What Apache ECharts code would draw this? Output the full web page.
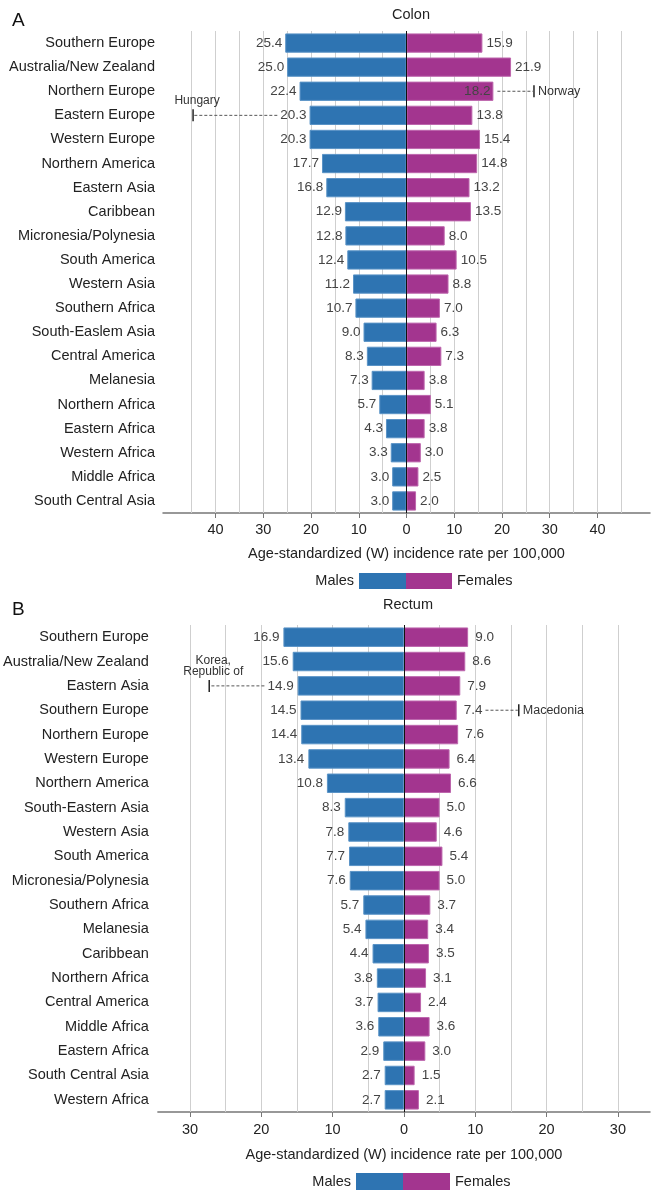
<!DOCTYPE html>
<html>
<head>
<meta charset="utf-8">
<script src="https://cdn.jsdelivr.net/npm/echarts@6/dist/echarts.min.js"></script>
<style>
html,body{margin:0;padding:0;background:#fff;}
#chart{width:651px;height:1193px;}
</style>
</head>
<body>
<div id="chart"></div>
<script>
// ---------- Panel A: Colon ----------
const colonCategories = ['Southern Europe','Australia/New Zealand','Northern Europe','Eastern Europe','Western Europe','Northern America','Eastern Asia','Caribbean','Micronesia/Polynesia','South America','Western Asia','Southern Africa','South-Easlem Asia','Central America','Melanesia','Northern Africa','Eastern Africa','Western Africa','Middle Africa','South Central Asia'];
const colonMales   = [25.4,25.0,22.4,20.3,20.3,17.7,16.8,12.9,12.8,12.4,11.2,10.7,9.0,8.3,7.3,5.7,4.3,3.3,3.0,3.0];
const colonFemales = [15.9,21.9,18.2,13.8,15.4,14.8,13.2,13.5,8.0,10.5,8.8,7.0,6.3,7.3,3.8,5.1,3.8,3.0,2.5,2.0];
const colonTicks = [-40,-30,-20,-10,0,10,20,30,40];
const colonGridVals = [-45,-40,-35,-30,-25,-20,-15,-10,-5,5,10,15,20,25,30,35,40,45];
const colonNotes = [
  {country:'Hungary', row:3, side:'male', value:44.7, textPos:'above', inside:false},
  {country:'Norway', row:2, side:'female', value:26.7, textPos:'right', inside:true}
];

// ---------- Panel B: Rectum ----------
const rectumCategories = ['Southern Europe','Australia/New Zealand','Eastern Asia','Southern Europe','Northern Europe','Western Europe','Northern America','South-Eastern Asia','Western Asia','South America','Micronesia/Polynesia','Southern Africa','Melanesia','Caribbean','Northern Africa','Central America','Middle Africa','Eastern Africa','South Central Asia','Western Africa'];
const rectumMales   = [16.9,15.6,14.9,14.5,14.4,13.4,10.8,8.3,7.8,7.7,7.6,5.7,5.4,4.4,3.8,3.7,3.6,2.9,2.7,2.7];
const rectumFemales = [9.0,8.6,7.9,7.4,7.6,6.4,6.6,5.0,4.6,5.4,5.0,3.7,3.4,3.5,3.1,2.4,3.6,3.0,1.5,2.1];
const rectumTicks = [-30,-20,-10,0,10,20,30];
const rectumGridVals = [-30,-25,-20,-15,-10,-5,5,10,15,20,25,30];
const rectumNotes = [
  {country:'Korea,\nRepublic of', row:2, side:'male', value:27.3, textPos:'above', inside:false},
  {country:'Macedonia', row:3, side:'female', value:16.1, textPos:'right', inside:false}
];

const BLUE = '#2e74b2';
const BLUE_EDGE = '#5a93c6';
const MAGENTA = '#a3358f';
const MAGENTA_EDGE = '#bd66ad';
const FONT = 'Liberation Sans, Arial, Helvetica, sans-serif';
const TXT = '#222';
const VAL = '#444';
const VAL_SIZE = 13.5;

const measureCtx = document.createElement('canvas').getContext('2d');
function textWidth(t){ measureCtx.font = VAL_SIZE + 'px ' + FONT; return measureCtx.measureText(t).width; }
const fmt = v => Math.abs(v).toFixed(1);

function panelSeries(idx, males, females, gridVals, notes, maleDist, femaleDist){
  const femaleData = females.map((v,i) => {
    const n = notes.find(n => n.row === i && n.side === 'female' && n.inside);
    return n ? {value:v, label:{position:'insideRight', distance:3}} : v;
  });
  const noteData = notes.map(n => {
    const sign = n.side === 'male' ? -1 : 1;
    const bar = n.side === 'male' ? males[n.row] : females[n.row];
    return {value:[sign*n.value, n.row, sign*bar], name:n.country, inside:n.inside, textPos:n.textPos, dist: n.side==='male'?maleDist:femaleDist};
  });
  return [
    {
      type:'bar', name:'Males', xAxisIndex:idx, yAxisIndex:idx,
      data: males.map(v => -v), barGap:'-100%', barCategoryGap:'20%', z:2,
      itemStyle:{color:BLUE, borderColor:BLUE_EDGE, borderWidth:1},
      label:{show:true, position:'left', distance:maleDist, formatter:p=>fmt(p.value), fontSize:VAL_SIZE, color:VAL, fontFamily:FONT},
      markLine:{silent:true, symbol:'none', animation:false, z:5, label:{show:false},
        lineStyle:{color:'#111', type:'solid', width:1}, data:[{xAxis:0}]}
    },
    {
      type:'bar', name:'Females', xAxisIndex:idx, yAxisIndex:idx,
      data: femaleData, barGap:'-100%', barCategoryGap:'20%', z:2,
      itemStyle:{color:MAGENTA, borderColor:MAGENTA_EDGE, borderWidth:1},
      label:{show:true, position:'right', distance:femaleDist, formatter:p=>fmt(p.value), fontSize:VAL_SIZE, color:VAL, fontFamily:FONT},
      markLine:{silent:true, symbol:'none', animation:false, z:1, label:{show:false},
        lineStyle:{color:'#cfcfcf', type:'solid', width:1}, data: gridVals.map(v => ({xAxis:v}))}
    },
    {
      type:'custom', xAxisIndex:idx, yAxisIndex:idx, z:6, clip:false, silent:true,
      data: noteData,
      renderItem:function(params, api){
        const item = noteData[params.dataIndex];
        const noteX = api.value(0), row = api.value(1), barV = api.value(2);
        const pN = api.coord([noteX, row]);
        const pB = api.coord([barV, row]);
        const sign = noteX < 0 ? -1 : 1;
        const startX = item.inside ? pB[0] + sign*4 : pB[0] + sign*(item.dist + textWidth(fmt(barV)) + 3);
        const y = pN[1];
        const children = [
          {type:'line', shape:{x1:startX, y1:y, x2:pN[0]-sign*1, y2:y}, style:{stroke:'#555', lineWidth:1, lineDash:[3,2]}},
          {type:'line', shape:{x1:pN[0], y1:y-6, x2:pN[0], y2:y+6}, style:{stroke:'#222', lineWidth:1.5}}
        ];
        if (item.textPos === 'above'){
          children.push({type:'text', style:{text:item.name, x:pN[0]+4, y:y-9, align:'center', verticalAlign:'bottom', fontSize:12, lineHeight:11, fontFamily:FONT, fill:'#333'}});
        } else {
          children.push({type:'text', style:{text:item.name, x:pN[0]+4, y:y, align:'left', verticalAlign:'middle', fontSize:12.5, fontFamily:FONT, fill:'#333'}});
        }
        return {type:'group', children:children};
      }
    }
  ];
}

function xAxisCfg(idx, min, max, ticks, margin, nameGap){
  return {
    type:'value', gridIndex:idx, min:min, max:max,
    splitLine:{show:false},
    axisLine:{show:true, lineStyle:{color:'#777', width:1.5}},
    axisTick:{show:true, customValues:ticks, length:5, lineStyle:{color:'#777', width:1}},
    axisLabel:{customValues:ticks, formatter:v=>String(Math.abs(v)), fontSize:14.5, color:TXT, fontFamily:FONT, margin:margin},
    name:'Age-standardized (W) incidence rate per 100,000', nameLocation:'middle', nameGap:nameGap,
    nameTextStyle:{fontSize:14.5, color:TXT, fontFamily:FONT}
  };
}
function yAxisCfg(idx, cats, margin){
  return {
    type:'category', gridIndex:idx, data:cats, inverse:true,
    axisLine:{show:false, onZero:false}, axisTick:{show:false}, splitLine:{show:false},
    axisLabel:{fontSize:14.5, color:TXT, fontFamily:FONT, margin:margin, interval:0}
  };
}

const legendBase = {selectedMode:false, padding:0, icon:'rect', itemStyle:{borderWidth:0}, textStyle:{fontSize:14.5, color:TXT, fontFamily:FONT}};

const option = {
  animation:false,
  backgroundColor:'#fff',
  textStyle:{fontFamily:FONT},
  title:[
    {text:'A', left:7, top:6, textStyle:{fontSize:19, fontWeight:'normal', color:'#111', fontFamily:FONT}},
    {text:'Colon', left:406, top:2, textAlign:'center', textStyle:{fontSize:14.5, fontWeight:'normal', color:TXT, fontFamily:FONT}},
    {text:'B', left:7, top:595, textStyle:{fontSize:19, fontWeight:'normal', color:'#111', fontFamily:FONT}},
    {text:'Rectum', left:403, top:592, textAlign:'center', textStyle:{fontSize:14.5, fontWeight:'normal', color:TXT, fontFamily:FONT}}
  ],
  legend:[
    Object.assign({}, legendBase, {data:['Males'], align:'right', right:245, top:573, itemWidth:47, itemHeight:16}),
    Object.assign({}, legendBase, {data:['Females'], align:'left', left:406, top:573, itemWidth:46, itemHeight:16}),
    Object.assign({}, legendBase, {data:['Males'], align:'right', right:248, top:1173, itemWidth:47, itemHeight:17}),
    Object.assign({}, legendBase, {data:['Females'], align:'left', left:403, top:1173, itemWidth:47, itemHeight:17})
  ],
  grid:[
    {left:163, right:1, top:31, height:482, containLabel:false},
    {left:157, right:1, top:625, height:487, containLabel:false}
  ],
  xAxis:[
    xAxisCfg(0, -51, 51, colonTicks, 9, 33),
    xAxisCfg(1, -34.5, 34.5, rectumTicks, 10, 35)
  ],
  yAxis:[
    yAxisCfg(0, colonCategories, 8),
    yAxisCfg(1, rectumCategories, 9)
  ],
  series:[].concat(
    panelSeries(0, colonMales, colonFemales, colonGridVals, colonNotes, 3, 4),
    panelSeries(1, rectumMales, rectumFemales, rectumGridVals, rectumNotes, 4, 7)
  )
};

const chart = echarts.init(document.getElementById('chart'), null, {renderer:'canvas'});
chart.setOption(option);
</script>
</body>
</html>
